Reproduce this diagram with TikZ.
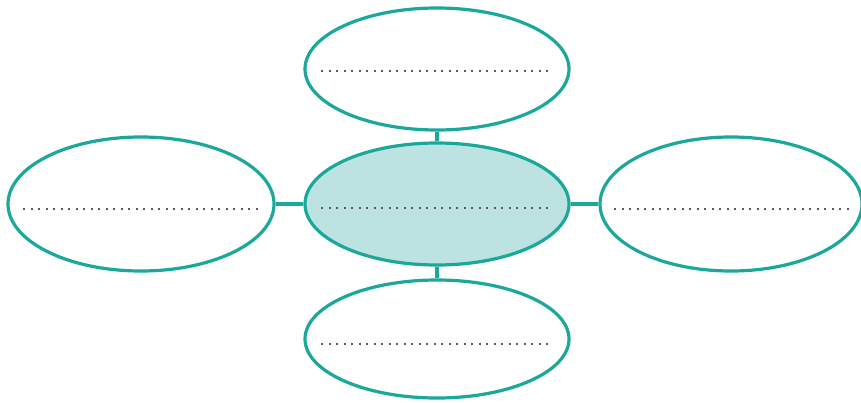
\documentclass[tikz,border=0pt]{standalone}
\usetikzlibrary{shapes.geometric,calc}
\definecolor{teal1}{HTML}{1AA89B}
\definecolor{tealfill}{HTML}{BCE3E1}
\definecolor{dotgray}{HTML}{5A5A5A}
\tikzset{
  bubble/.style={ellipse, draw=teal1, line width=3.2pt, fill=white, inner sep=0pt, minimum width=264pt, minimum height=122pt},
  hub/.style={bubble, fill=tealfill},
  link/.style={draw=teal1, line width=4.2pt},
  dotline/.style={draw=dotgray, line width=1.8pt, dash pattern=on 1.8pt off 5.7pt}
}
\begin{document}
\begin{tikzpicture}[x=1pt,y=-1pt]
\useasboundingbox (0,0) rectangle (861,402);
\node[hub] (c) at (437,204) {};
\node[bubble] (t) at (437,69) {};
\node[bubble, minimum height=118pt] (b) at (437,339) {};
\node[bubble, minimum width=266pt, minimum height=134pt] (l) at (141,204) {};
\node[bubble, minimum width=262pt, minimum height=134pt] (r) at (731,204) {};
\draw[link] (t.south) -- (c.north);
\draw[link] (c.south) -- (b.north);
\draw[link] (l.east) -- (c.west);
\draw[link] (c.east) -- (r.west);
\foreach \n/\dy/\a/\b in {c/4/18/21, t/2/18/22, b/5/18/21, l/5/17/16, r/5/16/10}{
  \draw[dotline] ($(\n.west)+(\a,\dy)$) -- ($(\n.east)+(-\b,\dy)$);
}
\end{tikzpicture}
\end{document}
